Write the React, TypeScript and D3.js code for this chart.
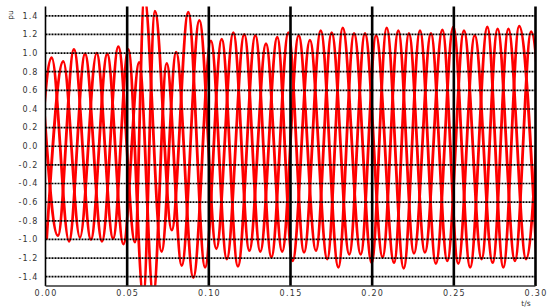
import * as React from "react";
import * as d3 from "d3";

// extremes: positive peaks (all phases, in time order)
const peakT = [-0.0029, 0.0038, 0.0109, 0.0174, 0.0242, 0.0313, 0.0378, 0.0446, 0.0507, 0.0574,
  0.0605, 0.067, 0.0742, 0.080, 0.0874, 0.0942, 0.1013, 0.1079, 0.115, 0.1217,
  0.1285, 0.135, 0.1419, 0.1487, 0.155, 0.1619, 0.1685, 0.1752, 0.182, 0.1889,
  0.1956, 0.2024, 0.2089, 0.216, 0.2225, 0.2293, 0.236, 0.243, 0.2497, 0.2562,
  0.2628, 0.2705, 0.2768, 0.2834, 0.29, 0.2973, 0.304];
const peakV = [0.95, 0.95, 0.91, 1.04, 0.99, 1.0, 0.99, 1.07, 1.04, 0.9,
  1.6, 1.45, 0.89, 1.01, 1.44, 1.35, 1.13, 1.15, 1.22, 1.20,
  1.19, 1.10, 1.17, 1.22, 1.19, 1.14, 1.24, 1.22, 1.27, 1.21,
  1.21, 1.19, 1.27, 1.24, 1.21, 1.24, 1.21, 1.25, 1.28, 1.24,
  1.19, 1.28, 1.26, 1.26, 1.29, 1.23, 1.22];

// troughs, trough j sits between peak j-1 and peak j
const troughT = [-0.0062, 0.0007, 0.0076, 0.0144, 0.0211, 0.0278, 0.0346, 0.0414, 0.0477, 0.0548,
  0.0599, 0.066, 0.0711, 0.0773, 0.0834, 0.0905, 0.0977, 0.1046, 0.111, 0.1178,
  0.1248, 0.1315, 0.1383, 0.1449, 0.1513, 0.1583, 0.1656, 0.1725, 0.1793, 0.186,
  0.193, 0.1997, 0.2064, 0.2134, 0.2193, 0.2256, 0.2323, 0.239, 0.246, 0.2527,
  0.26, 0.267, 0.2738, 0.2803, 0.2874, 0.2942, 0.3007, 0.3075];
const troughV = [-1.0, -1.0, -0.96, -1.02, -0.98, -1.0, -1.02, -0.99, -1.05, -1.03,
  -1.6, -1.6, -1.13, -0.9, -1.28, -1.41, -1.30, -1.10, -1.21, -1.29,
  -1.12, -1.13, -1.19, -1.13, -1.23, -1.14, -1.12, -1.21, -1.30, -1.16,
  -1.16, -1.25, -1.19, -1.25, -1.31, -1.15, -1.14, -1.26, -1.23, -1.26,
  -1.30, -1.21, -1.25, -1.30, -1.23, -1.21, -1.22, -1.25];

const yTicks = [-1.4, -1.2, -1.0, -0.8, -0.6, -0.4, -0.2, 0.0, 0.2, 0.4, 0.6, 0.8, 1.0, 1.2, 1.4];
const xTicks = [0, 0.05, 0.1, 0.15, 0.2, 0.25, 0.3];

export default function App() {
  const ref = React.useRef<SVGSVGElement>(null);

  React.useEffect(() => {
    const svg = d3.select(ref.current);
    svg.selectAll("*").remove();

    const x = d3.scaleLinear().domain([0, 0.3]).range([45.5, 535.5]);
    const y = d3.scaleLinear().domain([-1.5, 1.5]).range([286, 6.5]);
    const font = "'DejaVu Sans', sans-serif";

    // split the extremes into the three phases
    const phases = [0, 1, 2].map(p => {
      const pts: [number, number][] = [];
      peakT.forEach((t, i) => { if (i % 3 === p) pts.push([t, peakV[i]]); });
      troughT.forEach((t, j) => { if ((j + 1) % 3 === p) pts.push([t, troughV[j]]); });
      return pts.sort((a, b) => a[0] - b[0]);
    });

    svg.append("defs").append("clipPath").attr("id", "plot")
      .append("rect")
      .attr("x", x(0)).attr("y", y(1.5))
      .attr("width", x(0.3) - x(0)).attr("height", y(-1.5) - y(1.5));

    const line = d3.line<[number, number]>()
      .x(d => x(d[0]))
      .y(d => y(d[1]))
      .curve(d3.curveMonotoneX);

    svg.append("g").attr("clip-path", "url(#plot)")
      .selectAll("path")
      .data(phases)
      .enter().append("path")
      .attr("d", d => line(d))
      .attr("fill", "none")
      .attr("stroke", "#ff0000")
      .attr("stroke-width", 2.8)
      .attr("stroke-linejoin", "round");

    // horizontal dotted grid
    svg.append("g").selectAll("line")
      .data(yTicks)
      .enter().append("line")
      .attr("x1", x(0)).attr("x2", x(0.3))
      .attr("y1", d => y(d)).attr("y2", d => y(d))
      .attr("stroke", "#000")
      .attr("stroke-width", 1.7)
      .attr("stroke-dasharray", "2 1");

    // vertical grid
    svg.append("g").selectAll("line")
      .data(xTicks.slice(1))
      .enter().append("line")
      .attr("x1", d => x(d)).attr("x2", d => x(d))
      .attr("y1", y(1.5)).attr("y2", y(-1.5))
      .attr("stroke", "#000")
      .attr("stroke-width", 2.6);

    // axes
    svg.append("line")
      .attr("x1", x(0)).attr("x2", x(0))
      .attr("y1", y(1.5)).attr("y2", y(-1.5))
      .attr("stroke", "#000").attr("stroke-width", 1.6);
    svg.append("line")
      .attr("x1", x(0)).attr("x2", x(0.3))
      .attr("y1", y(-1.5)).attr("y2", y(-1.5))
      .attr("stroke", "#333").attr("stroke-width", 1.4);

    svg.append("g").selectAll("text")
      .data(yTicks)
      .enter().append("text")
      .attr("x", 38.5)
      .attr("y", d => y(d))
      .attr("dy", "0.36em")
      .attr("text-anchor", "end")
      .attr("font-family", font)
      .attr("font-size", 8)
      .attr("letter-spacing", 1.1)
      .attr("fill", "#333")
      .text(d => d3.format(".1f")(d).replace("−", "-"));

    svg.append("g").selectAll("text")
      .data(xTicks)
      .enter().append("text")
      .attr("x", d => x(d) + 0.6)
      .attr("y", 296)
      .attr("text-anchor", "middle")
      .attr("font-family", font)
      .attr("font-size", 8)
      .attr("letter-spacing", 1.3)
      .attr("fill", "#333")
      .text(d => d3.format(".2f")(d));

    svg.append("text")
      .attr("transform", "translate(13,15) rotate(-90)")
      .attr("text-anchor", "middle")
      .attr("font-family", font)
      .attr("font-size", 7.5)
      .attr("fill", "#333")
      .text("pu");

    svg.append("text")
      .attr("x", 526)
      .attr("y", 305.5)
      .attr("text-anchor", "middle")
      .attr("font-family", font)
      .attr("font-size", 7.5)
      .attr("fill", "#333")
      .text("t/s");
  }, []);

  return <svg ref={ref} width={550} height={308} style={{position: "absolute", left: 0, top: 0}}/>;
}
